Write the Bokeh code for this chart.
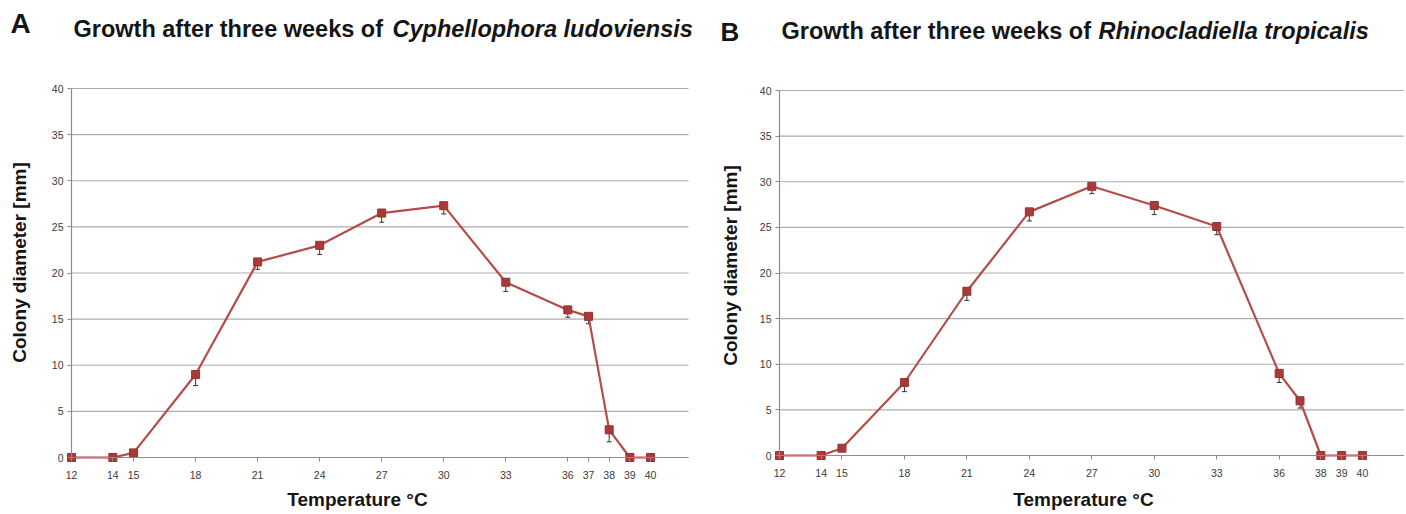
from bokeh.plotting import figure
from bokeh.layouts import row
from bokeh.models import Label, FixedTicker, ColumnDataSource, Whisker, TeeHead
from bokeh.embed import file_html
from bokeh.resources import INLINE

# ---- data ----
temps_a = [12, 14, 15, 18, 21, 24, 27, 30, 33, 36, 37, 38, 39, 40]
diam_a = [0, 0, 0.5, 9, 21.2, 23, 26.5, 27.3, 19, 16, 15.3, 3, 0, 0]
err_a = [0, 0, 0, 1.2, 0.8, 1.0, 1.0, 0.9, 1.0, 0.8, 0.8, 1.3, 0, 0]
ticks_a = [12, 14, 15, 18, 21, 24, 27, 30, 33, 36, 37, 38, 39, 40]

temps_b = [12, 14, 15, 18, 21, 24, 27, 30, 33, 36, 37, 38, 39, 40]
diam_b = [0, 0, 0.8, 8, 18, 26.7, 29.5, 27.4, 25.1, 9, 6, 0, 0, 0]
err_b = [0, 0, 0, 1.0, 1.0, 1.0, 0.8, 1.0, 0.9, 1.0, 0.8, 0, 0, 0]
ticks_b = [12, 14, 15, 18, 21, 24, 27, 30, 33, 36, 38, 39, 40]

y_ticks = [0, 5, 10, 15, 20, 25, 30, 35, 40]

LINE = "#b34d4a"
MARK = "#a83a38"
FONT = "Liberation Sans"
TXT = "#151515"
W, H = 702, 512


def make_panel(letter, species, temps, diam, err, ticks,
               ax_x, px_deg, y0_px, y40_px, grid_end,
               letter_x, letter_top, letter_size, title_x, title_top, italic_x,
               ylab_x, ylab_top, xlab_x, xlab_top):
    # frame covers the whole canvas; axes are placed with fixed_location
    x_start = 12 - ax_x / px_deg
    x_end = x_start + W / px_deg
    if grid_end is None:
        grid_end = x_end
    px_unit = (y0_px - y40_px) / 40.0
    y_start = -(H - y0_px) / px_unit
    y_end = 40 + y40_px / px_unit

    p = figure(width=W, height=H, output_backend="svg", toolbar_location=None,
               x_range=(x_start, x_end), y_range=(y_start, y_end),
               min_border=0, min_border_left=0, min_border_right=0,
               min_border_top=0, min_border_bottom=0)
    p.outline_line_color = None
    p.xgrid.grid_line_color = None
    p.ygrid.grid_line_color = None

    # horizontal grid lines at the y ticks
    p.segment(x0=[12] * len(y_ticks), x1=[grid_end] * len(y_ticks),
              y0=y_ticks, y1=y_ticks, line_color="#adadad", line_width=1.2)

    p.xaxis.fixed_location = 0
    p.yaxis.fixed_location = 12
    p.xaxis.bounds = (12, grid_end)
    p.yaxis.bounds = (0, 40)
    p.xaxis.ticker = FixedTicker(ticks=ticks)
    p.yaxis.ticker = FixedTicker(ticks=y_ticks)
    for ax in (p.xaxis, p.yaxis):
        ax.axis_line_color = "#8c8c8c"
        ax.axis_line_width = 1.2
        ax.major_tick_line_color = "#8c8c8c"
        ax.major_tick_out = 4
        ax.major_tick_in = 0
        ax.minor_tick_line_color = None
        ax.major_label_text_font = FONT
        ax.major_label_text_font_size = "10.5px"
        ax.major_label_text_color = "#3a3a3a"
    p.xaxis.major_label_standoff = 9
    p.yaxis.major_label_standoff = 4

    src = ColumnDataSource(dict(x=temps, y=diam,
                                lo=[d - e for d, e in zip(diam, err)]))
    p.line("x", "y", source=src, line_color=LINE, line_width=2.2)
    wh = Whisker(base="x", upper="y", lower="lo", source=src, dimension="height",
                 line_color="#333333", line_width=1,
                 upper_head=None,
                 lower_head=TeeHead(size=5, line_color="#333333", line_width=1))
    p.add_layout(wh)
    p.scatter("x", "y", source=src, marker="square", size=8,
              fill_color=MARK, line_color="#943230")

    # texts (screen units: x from frame left, y from frame bottom; frame == canvas)
    p.add_layout(Label(x=letter_x, y=H - letter_top, x_units="screen", y_units="screen",
                       text=letter, text_font=FONT, text_font_style="bold",
                       text_baseline="alphabetic",
                       text_font_size=letter_size, text_color=TXT))
    p.add_layout(Label(x=title_x, y=H - title_top, x_units="screen", y_units="screen",
                       text="Growth after three weeks of", text_font=FONT,
                       text_font_style="bold", text_baseline="alphabetic",
                       text_font_size="23.5px", text_color=TXT))
    p.add_layout(Label(x=italic_x, y=H - title_top, x_units="screen", y_units="screen",
                       text=species, text_font=FONT, text_baseline="alphabetic",
                       text_font_style="bold italic", text_font_size="23.5px",
                       text_color=TXT))
    p.add_layout(Label(x=ylab_x, y=H - ylab_top, x_units="screen", y_units="screen",
                       text="Colony diameter [mm]", angle=90, angle_units="deg",
                       text_align="center", text_baseline="alphabetic",
                       text_font=FONT, text_font_style="bold",
                       text_font_size="19px", text_color=TXT))
    p.add_layout(Label(x=xlab_x, y=H - xlab_top, x_units="screen", y_units="screen",
                       text="Temperature °C", text_align="center",
                       text_baseline="alphabetic", text_font=FONT,
                       text_font_style="bold", text_font_size="19px", text_color=TXT))
    return p


pa = make_panel("A", "Cyphellophora ludoviensis", temps_a, diam_a, err_a, ticks_a,
                ax_x=71, px_deg=20.68, y0_px=457, y40_px=88, grid_end=41.84,
                letter_x=10, letter_top=23, letter_size="28px",
                title_x=73, title_top=28, italic_x=392,
                ylab_x=19, ylab_top=262, xlab_x=357, xlab_top=499)
pb = make_panel("B", "Rhinocladiella tropicalis", temps_b, diam_b, err_b, ticks_b,
                ax_x=77, px_deg=20.82, y0_px=455, y40_px=90, grid_end=None,
                letter_x=18, letter_top=31, letter_size="26px",
                title_x=79, title_top=30, italic_x=396,
                ylab_x=28, ylab_top=265, xlab_x=381, xlab_top=499)

layout = row(pa, pb, spacing=0)
open("out.html", "w").write(file_html(layout, INLINE))
